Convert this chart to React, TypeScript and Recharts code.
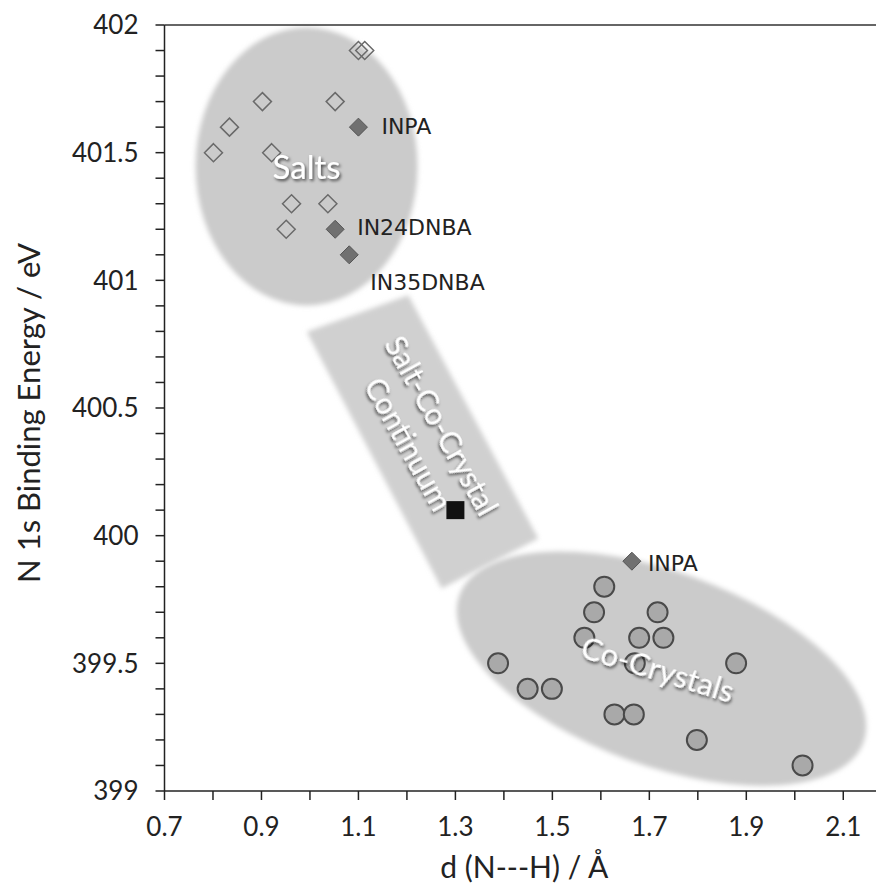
import React from 'react';
import {
  ComposedChart,
  Scatter,
  XAxis,
  YAxis,
  ReferenceArea,
  ReferenceLine,
  Label,
} from 'recharts';

// ---------- data ----------
const saltsOpen = [
  { x: 1.1, y: 401.9 },
  { x: 1.113, y: 401.9 },
  { x: 0.902, y: 401.7 },
  { x: 1.052, y: 401.7 },
  { x: 0.834, y: 401.6 },
  { x: 0.801, y: 401.5 },
  { x: 0.921, y: 401.5 },
  { x: 0.962, y: 401.3 },
  { x: 1.037, y: 401.3 },
  { x: 0.951, y: 401.2 },
];

const saltsNamed = [
  { x: 1.1, y: 401.6, name: 'INPA' },
  { x: 1.052, y: 401.2, name: 'IN24DNBA' },
  { x: 1.081, y: 401.1, name: 'IN35DNBA' },
];

const coCrystalNamed = [{ x: 1.664, y: 399.9, name: 'INPA' }];

const continuumPoint = [{ x: 1.3, y: 400.1 }];

const coCrystals = [
  { x: 1.607, y: 399.8 },
  { x: 1.586, y: 399.7 },
  { x: 1.717, y: 399.7 },
  { x: 1.566, y: 399.6 },
  { x: 1.679, y: 399.6 },
  { x: 1.729, y: 399.6 },
  { x: 1.388, y: 399.5 },
  { x: 1.67, y: 399.5 },
  { x: 1.879, y: 399.5 },
  { x: 1.449, y: 399.4 },
  { x: 1.499, y: 399.4 },
  { x: 1.628, y: 399.3 },
  { x: 1.668, y: 399.3 },
  { x: 1.798, y: 399.2 },
  { x: 2.016, y: 399.1 },
];

const xTicks = [0.7, 0.8, 0.9, 1.0, 1.1, 1.2, 1.3, 1.4, 1.5, 1.6, 1.7, 1.8, 1.9, 2.0, 2.1];
const xTickLabels = ['0.7', '', '0.9', '', '1.1', '', '1.3', '', '1.5', '', '1.7', '', '1.9', '', '2.1'];
const yTicks = [
  399, 399.1, 399.2, 399.3, 399.4, 399.5, 399.6, 399.7, 399.8, 399.9,
  400, 400.1, 400.2, 400.3, 400.4, 400.5, 400.6, 400.7, 400.8, 400.9,
  401, 401.1, 401.2, 401.3, 401.4, 401.5, 401.6, 401.7, 401.8, 401.9, 402,
];
const yLabelTicks = ['399', '399.5', '400', '400.5', '401', '401.5', '402'];

// region shapes (data coordinates)
const saltsRegionCenter = { x: 0.993, y: 401.446 };
const continuumCorners = [
  { x: 0.9933, y: 400.799 },
  { x: 1.2028, y: 400.942 },
  { x: 1.4709, y: 399.989 },
  { x: 1.2717, y: 399.793 },
];
const coCrystalRegionCenter = { x: 1.725, y: 399.479 };

const regionLabels = [
  { lines: ['Salts'], x: 0.993, y: 401.448, angle: 0, size: 33 },
  { lines: ['Salt-Co-Crystal', 'Continuum'], x: 1.239, y: 400.397, angle: 61, size: 30 },
  { lines: ['Co-Crystals'], x: 1.718, y: 399.48, angle: 17, size: 31 },
];

// ---------- helpers ----------
const X0 = 0.7, X1 = 2.1, Y0 = 399, Y1 = 402;
const mapper = (p: any) => {
  const { x, y, width, height } = p;
  return {
    px: (v: number) => x + ((v - X0) / (X1 - X0)) * width,
    py: (v: number) => y + ((Y1 - v) / (Y1 - Y0)) * height,
  };
};

const fmtX = (v: number) => {
  const i = xTicks.findIndex((t) => Math.abs(t - v) < 1e-6);
  return i >= 0 ? xTickLabels[i] : '';
};
const fmtY = (v: number) => {
  const s = yLabelTicks.find((t) => Math.abs(parseFloat(t) - v) < 1e-6);
  return s || '';
};

const renderBackground = (p: any) => {
  const { px, py } = mapper(p);
  const pts = continuumCorners.map((c) => `${px(c.x)},${py(c.y)}`).join(' ');
  const sx = px(saltsRegionCenter.x), sy = py(saltsRegionCenter.y);
  const cx = px(coCrystalRegionCenter.x), cy = py(coCrystalRegionCenter.y);
  return (
    <g>
      <defs>
        <filter id="softEdge" x="-20%" y="-20%" width="140%" height="140%">
          <feGaussianBlur stdDeviation="2.5" />
        </filter>
      </defs>
      <ellipse cx={sx} cy={sy} rx={111} ry={139} fill="#cbcbcb" filter="url(#softEdge)" />
      <polygon points={pts} fill="#d0d0d0" filter="url(#softEdge)" />
      <ellipse
        cx={cx}
        cy={cy}
        rx={215}
        ry={97}
        fill="#cbcbcb"
        transform={`rotate(20 ${cx} ${cy})`}
        filter="url(#softEdge)"
      />
    </g>
  );
};

const renderRegionLabels = (p: any) => {
  const { px, py } = mapper(p);
  return (
    <g>
      <defs>
        <filter id="txtShadow" x="-20%" y="-40%" width="140%" height="180%">
          <feDropShadow dx="1.5" dy="2" stdDeviation="1.5" floodColor="#000" floodOpacity="0.65" />
        </filter>
      </defs>
      {regionLabels.map((r, k) => (
        <g key={k} transform={`translate(${px(r.x)} ${py(r.y)}) rotate(${r.angle})`}>
          {r.lines.map((ln, i) => (
            <text
              key={i}
              x={0}
              y={(i - (r.lines.length - 1) / 2) * 38}
              textAnchor="middle"
              dominantBaseline="central"
              fontFamily="Lato, 'Open Sans', sans-serif"
              fontSize={r.size}
              fill="#ffffff"
              filter="url(#txtShadow)"
            >
              {ln}
            </text>
          ))}
        </g>
      ))}
    </g>
  );
};

const openDiamond = (p: any) => {
  const { cx, cy } = p;
  const h = 9;
  return (
    <path
      d={`M${cx},${cy - h}L${cx + h},${cy}L${cx},${cy + h}L${cx - h},${cy}Z`}
      fill="none"
      stroke="#6a6a6a"
      strokeWidth={1.5}
    />
  );
};

const labelOffsetsSalts: Record<string, [number, number]> = {
  INPA: [23, -1],
  IN24DNBA: [22, -2],
  IN35DNBA: [21, 28],
};
const labelOffsetsCo: Record<string, [number, number]> = {
  INPA: [16, 2],
};

const namedDiamond = (offsets: Record<string, [number, number]>) => (p: any) => {
  const { cx, cy, payload } = p;
  const h = 9;
  const off = offsets[payload.name] || [20, 0];
  return (
    <g>
      <path
        d={`M${cx},${cy - h}L${cx + h},${cy}L${cx},${cy + h}L${cx - h},${cy}Z`}
        fill="#707070"
        stroke="#555"
        strokeWidth={1}
      />
      <text
        x={cx + off[0]}
        y={cy + off[1]}
        dominantBaseline="central"
        fontFamily="'DejaVu Sans', sans-serif"
        fontSize={22}
        fill="#222"
      >
        {payload.name}
      </text>
    </g>
  );
};

const circleShape = (p: any) => (
  <circle cx={p.cx} cy={p.cy} r={10} fill="#a9a9a9" stroke="#4a4a4a" strokeWidth={2} />
);

const squareShape = (p: any) => (
  <rect x={p.cx - 9} y={p.cy - 9} width={18} height={18} fill="#111" />
);

const yTitle = (props: any) => {
  const vb = props.viewBox || { x: 0, y: 17, width: 156, height: 766 };
  const x = vb.x + 20;
  const y = vb.y + vb.height / 2 + 5;
  return (
    <text
      x={x}
      y={y}
      transform={`rotate(-90 ${x} ${y})`}
      textAnchor="middle"
      dominantBaseline="central"
      fontFamily="Lato, 'Open Sans', sans-serif"
      fontSize={31}
      fill="#222"
    >
      N 1s Binding Energy / eV
    </text>
  );
};

export default function App() {
  return (
    <ComposedChart width={876} height={880} margin={{ top: 17, right: 0, bottom: 0, left: 0 }}>
      <XAxis
        type="number"
        dataKey="x"
        domain={[0.7, 2.184]}
        allowDataOverflow
        ticks={xTicks}
        interval={0}
        tickFormatter={fmtX}
        tickSize={9}
        tickMargin={18}
        height={97}
        axisLine={{ stroke: '#222', strokeWidth: 1.5 }}
        tickLine={{ stroke: '#222', strokeWidth: 1.5 }}
        tick={{ fontFamily: 'Lato', fontSize: 26, fill: '#222' }}
      >
        <Label
          value="d (N---H) / Å"
          position="insideBottom"
          offset={10}
          fontFamily="Lato"
          fontSize={30}
          fill="#222"
        />
      </XAxis>
      <YAxis
        type="number"
        dataKey="y"
        domain={[399, 402]}
        allowDataOverflow
        ticks={yTicks}
        interval={0}
        tickFormatter={fmtY}
        tickSize={9}
        tickMargin={17}
        width={156.5}
        axisLine={{ stroke: '#222', strokeWidth: 1.5 }}
        tickLine={{ stroke: '#222', strokeWidth: 1.5 }}
        tick={{ fontFamily: 'Lato', fontSize: 26, fill: '#222' }}
      >
        <Label content={yTitle} />
      </YAxis>
      <ReferenceArea
        x1={0.7}
        x2={2.1}
        y1={399}
        y2={402}
        shape={renderBackground}
        zIndex={-10}
      />
      <ReferenceLine y={402} stroke="#333" strokeWidth={1.5} />
      <Scatter data={saltsOpen} shape={openDiamond} isAnimationActive={false} />
      <Scatter data={saltsNamed} shape={namedDiamond(labelOffsetsSalts)} isAnimationActive={false} />
      <Scatter data={continuumPoint} shape={squareShape} isAnimationActive={false} />
      <Scatter data={coCrystals} shape={circleShape} isAnimationActive={false} />
      <Scatter data={coCrystalNamed} shape={namedDiamond(labelOffsetsCo)} isAnimationActive={false} />
      <ReferenceArea
        x1={0.7}
        x2={2.1}
        y1={399}
        y2={402}
        shape={renderRegionLabels}
        zIndex={700}
      />
    </ComposedChart>
  );
}
